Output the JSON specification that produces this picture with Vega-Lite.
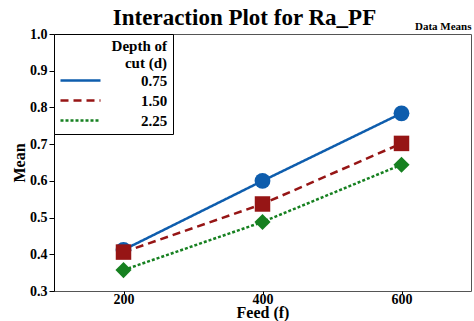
{
  "$schema": "https://vega.github.io/schema/vega-lite/v6.json",
  "width": 417,
  "height": 257,
  "autosize": "none",
  "padding": {"left": 54, "top": 34, "right": 3, "bottom": 30},
  "background": "white",
  "title": {
    "text": "Interaction Plot for Ra_PF",
    "font": "Liberation Serif",
    "fontSize": 23,
    "fontWeight": "bold",
    "color": "black",
    "anchor": "middle",
    "frame": "group",
    "dx": -18,
    "dy": 14,
    "offset": 4
  },
  "data": {
    "values": [
      {"feed": 200, "depth": "0.75", "mean": 0.412},
      {"feed": 400, "depth": "0.75", "mean": 0.600},
      {"feed": 600, "depth": "0.75", "mean": 0.784},
      {"feed": 200, "depth": "1.50", "mean": 0.406},
      {"feed": 400, "depth": "1.50", "mean": 0.537},
      {"feed": 600, "depth": "1.50", "mean": 0.702},
      {"feed": 200, "depth": "2.25", "mean": 0.357},
      {"feed": 400, "depth": "2.25", "mean": 0.488},
      {"feed": 600, "depth": "2.25", "mean": 0.644}
    ]
  },
  "encoding": {
    "y": {
      "field": "mean",
      "type": "quantitative",
      "scale": {"domain": [0.3, 1.0], "nice": false, "zero": false},
      "axis": {
        "title": "Mean",
        "values": [0.3, 0.4, 0.5, 0.6, 0.7, 0.8, 0.9, 1.0],
        "format": ".1f",
        "labelFont": "Liberation Serif",
        "labelFontSize": 14,
        "labelFontWeight": "bold",
        "labelColor": "black",
        "titleFont": "Liberation Serif",
        "titleFontSize": 16,
        "titleFontWeight": "bold",
        "titleColor": "black",
        "titlePadding": 2,
        "domainColor": "black",
        "tickColor": "black",
        "tickSize": 5,
        "labelPadding": 2,
        "grid": false
      }
    }
  },
  "layer": [
    {
      "mark": {"type": "line", "strokeWidth": 2.5},
      "encoding": {
        "x": {
          "field": "feed",
          "type": "ordinal",
          "scale": {"type": "point", "padding": 0.5},
          "axis": {
            "title": "Feed (f)",
            "labelAngle": 0,
            "labelFont": "Liberation Serif",
            "labelFontSize": 14,
            "labelFontWeight": "bold",
            "labelColor": "black",
            "titleFont": "Liberation Serif",
            "titleFontSize": 16,
            "titleFontWeight": "bold",
            "titleColor": "black",
            "titlePadding": -2,
            "domain": false,
            "ticks": true,
            "tickSize": 3,
            "tickColor": "black",
            "labelPadding": -2,
            "grid": false
          }
        },
        "color": {
          "field": "depth",
          "type": "nominal",
          "scale": {"domain": ["0.75", "1.50", "2.25"], "range": ["#0E5DAD", "#961515", "#168020"]},
          "legend": {
            "title": ["Depth of", "cut (d)"],
            "orient": "top-left",
            "offset": 0,
            "padding": 5,
            "strokeColor": "black",
            "fillColor": "white",
            "symbolType": "M-1,0H3",
            "symbolSize": 400,
            "symbolStrokeWidth": 2.5,
            "titleFont": "Liberation Serif",
            "titleFontSize": 15,
            "titleFontWeight": "bold",
            "titleColor": "black",
            "titleAlign": "right",
            "titleAnchor": "end",
            "titleLineHeight": 17,
            "titlePadding": -2,
            "labelFont": "Liberation Serif",
            "labelFontSize": 15,
            "labelFontWeight": "bold",
            "labelColor": "black",
            "labelOffset": 59,
            "rowPadding": -4
          }
        },
        "strokeDash": {
          "field": "depth",
          "type": "nominal",
          "scale": {"domain": ["0.75", "1.50", "2.25"], "range": [[1, 0], [8, 5], [3, 2]]},
          "legend": null
        }
      }
    },
    {
      "transform": [{"filter": "datum.depth === '0.75'"}],
      "mark": {"type": "point", "filled": true, "opacity": 1, "shape": "circle", "size": 250, "color": "#0E5DAD"},
      "encoding": {"x": {"field": "feed", "type": "ordinal", "axis": null}}
    },
    {
      "transform": [{"filter": "datum.depth === '1.50'"}],
      "mark": {"type": "point", "filled": true, "opacity": 1, "shape": "square", "size": 240, "color": "#961515"},
      "encoding": {"x": {"field": "feed", "type": "ordinal", "axis": null}}
    },
    {
      "transform": [{"filter": "datum.depth === '2.25'"}],
      "mark": {"type": "point", "filled": true, "opacity": 1, "shape": "diamond", "size": 260, "color": "#168020"},
      "encoding": {"x": {"field": "feed", "type": "ordinal", "axis": null}}
    },
    {
      "mark": {"type": "point", "opacity": 0},
      "encoding": {
        "x": {
          "field": "feed",
          "type": "ordinal",
          "axis": {
            "orient": "top",
            "title": "Data Means",
            "labels": false,
            "ticks": false,
            "domain": false,
            "titleFont": "Liberation Serif",
            "titleFontSize": 11,
            "titleFontWeight": "bold",
            "titleColor": "black",
            "titleAnchor": "end",
            "titlePadding": 3,
            "titleAlign": "right"
          }
        }
      }
    }
  ],
  "resolve": {"axis": {"x": "independent"}},
  "config": {
    "view": {"stroke": "#555555", "strokeWidth": 1}
  }
}
